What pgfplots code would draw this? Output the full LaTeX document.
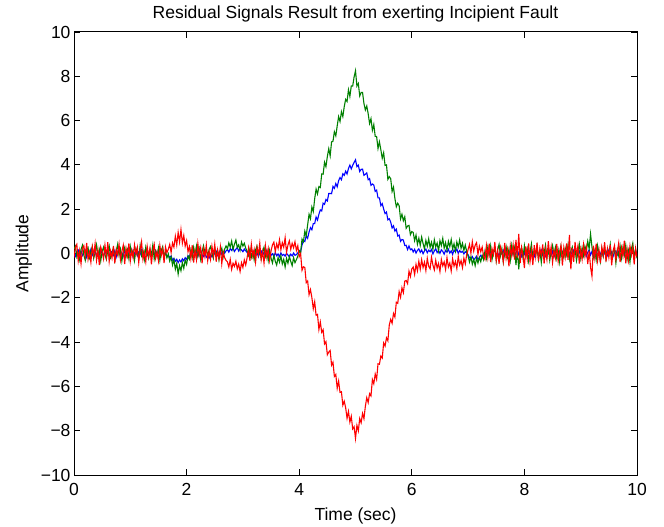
\documentclass[border=0pt]{standalone}
\usepackage{pgfplots}
\pgfplotsset{compat=1.18}
\usepackage{pgfplotstable}
\usepackage{fontspec}
\setmainfont{Liberation Sans}
\newcommand\ff{\fontsize{17.5bp}{21bp}\selectfont}

% time, blue, green, red
\pgfplotstableread{
x b g r
0.000 0.05 0.21 -0.18
0.025 -0.12 0.33 0.27
0.050 0.08 -0.15 0.41
0.075 0.16 0.02 -0.33
0.100 -0.04 -0.28 0.12
0.125 0.11 0.18 -0.46
0.150 -0.09 0.37 0.22
0.175 0.02 -0.07 0.35
0.200 0.14 -0.31 -0.12
0.225 -0.17 0.12 0.48
0.250 0.06 0.26 -0.27
0.275 -0.02 -0.19 0.05
0.300 0.19 0.08 -0.39
0.325 -0.08 0.31 0.31
0.350 0.03 -0.22 -0.08
0.375 0.12 0.04 0.44
0.400 -0.14 0.39 -0.31
0.425 0.07 -0.11 0.16
0.450 -0.05 0.17 -0.52
0.475 0.15 -0.33 0.29
0.500 0.01 0.09 0.07
0.525 -0.11 0.28 -0.24
0.550 0.09 -0.05 0.38
0.575 -0.03 -0.26 -0.15
0.600 0.17 0.14 0.51
0.625 -0.13 0.35 -0.36
0.650 0.04 -0.17 0.11
0.675 0.10 0.06 -0.21
0.700 -0.07 0.24 0.34
0.725 0.13 -0.29 -0.44
0.750 -0.16 0.11 0.18
0.775 0.08 0.41 -0.06
0.800 0.21 -0.08 0.42
0.825 -0.06 0.19 -0.29
0.850 0.03 -0.34 0.09
0.875 -0.12 0.07 0.37
0.900 0.10 0.27 -0.48
0.925 -0.01 -0.14 0.23
0.950 0.14 0.16 -0.11
0.975 -0.09 -0.23 0.46
1.000 0.06 0.32 -0.34
1.025 0.18 -0.02 0.14
1.050 -0.15 0.13 -0.19
1.075 0.02 -0.31 0.39
1.100 0.11 0.22 -0.05
1.125 -0.10 0.05 0.28
1.150 0.07 -0.18 -0.41
1.175 -0.04 0.36 0.17
1.200 0.16 -0.09 0.53
1.225 -0.13 0.15 -0.26
1.250 0.05 -0.27 0.06
1.275 0.12 0.29 -0.37
1.300 -0.08 0.03 0.32
1.325 0.01 -0.21 -0.14
1.350 0.15 0.18 0.25
1.375 -0.11 -0.06 -0.49
1.400 0.09 0.38 0.13
1.425 -0.05 -0.25 0.41
1.450 0.13 0.10 -0.22
1.475 -0.02 -0.13 0.08
1.500 0.08 0.25 -0.33
1.525 -0.14 -0.30 0.36
1.550 0.04 0.14 -0.09
1.575 0.10 0.31 0.21
1.600 -0.07 -0.16 -0.43
1.625 0.03 0.06 0.30
1.650 -0.12 -0.20 0.04
1.675 -0.09 -0.02 0.19
1.700 -0.18 -0.34 0.41
1.725 -0.11 -0.15 0.05
1.750 -0.30 -0.52 0.48
1.775 -0.22 -0.28 0.29
1.800 -0.35 -0.71 0.78
1.825 -0.26 -0.44 0.39
1.850 -0.41 -0.93 0.95
1.875 -0.29 -0.55 0.52
1.900 -0.38 -0.78 1.08
1.925 -0.24 -0.41 0.47
1.950 -0.33 -0.67 0.81
1.975 -0.19 -0.30 0.33
2.000 -0.27 -0.49 0.58
2.025 -0.10 -0.12 0.08
2.050 -0.16 -0.26 0.31
2.075 0.04 0.15 -0.22
2.100 -0.08 -0.19 0.37
2.125 0.12 0.27 -0.41
2.150 -0.03 -0.08 0.14
2.175 0.09 0.33 -0.28
2.200 -0.13 -0.12 0.45
2.225 0.06 0.21 -0.07
2.250 0.15 -0.27 0.26
2.275 -0.06 0.09 -0.44
2.300 -0.14 0.35 0.19
2.325 0.02 0.04 -0.15
2.350 -0.17 0.22 0.38
2.375 -0.09 -0.14 -0.32
2.400 -0.21 0.18 0.11
2.425 -0.05 0.31 -0.26
2.450 -0.15 0.02 0.33
2.475 0.07 -0.21 -0.09
2.500 -0.02 0.26 0.42
2.525 0.11 -0.06 -0.37
2.550 -0.08 0.13 0.16
2.575 0.05 -0.29 -0.21
2.600 0.14 0.07 0.29
2.625 -0.04 0.24 -0.46
2.650 0.09 -0.15 0.07
2.675 0.01 0.19 -0.18
2.700 0.12 0.34 -0.31
2.725 0.18 0.21 -0.38
2.750 0.06 0.48 -0.61
2.775 0.22 0.29 -0.27
2.800 0.14 0.56 -0.72
2.825 0.25 0.18 -0.44
2.850 0.09 0.42 -0.58
2.875 0.19 0.61 -0.35
2.900 0.27 0.27 -0.69
2.925 0.11 0.39 -0.48
2.950 0.23 0.15 -0.81
2.975 0.16 0.52 -0.42
3.000 0.08 0.33 -0.63
3.025 0.20 0.46 -0.29
3.050 0.12 0.24 -0.52
3.075 0.05 0.11 -0.19
3.100 -0.06 -0.09 0.24
3.125 0.10 0.22 -0.33
3.150 -0.12 -0.17 0.41
3.175 0.03 0.08 -0.12
3.200 0.13 -0.28 0.18
3.225 -0.07 0.16 -0.39
3.250 0.08 0.33 0.27
3.275 -0.15 -0.06 -0.05
3.300 0.02 0.19 0.46
3.325 0.11 -0.24 -0.28
3.350 -0.09 0.05 0.09
3.375 0.06 0.28 -0.43
3.400 -0.04 -0.13 0.35
3.425 0.14 0.10 -0.17
3.450 -0.10 -0.32 0.22
3.475 0.05 0.14 -0.31
3.500 -0.08 -0.21 0.12
3.525 -0.01 -0.43 0.39
3.550 -0.13 -0.09 0.51
3.575 0.04 -0.35 0.08
3.600 -0.10 -0.52 0.44
3.625 -0.02 -0.18 0.23
3.650 -0.14 -0.39 0.62
3.675 0.03 -0.11 0.17
3.700 -0.09 -0.47 0.49
3.725 -0.04 -0.26 0.28
3.750 -0.12 -0.61 0.71
3.775 0.01 -0.22 0.05
3.800 -0.07 -0.44 0.38
3.825 -0.15 -0.13 0.57
3.850 -0.03 -0.36 0.19
3.875 -0.11 -0.55 0.46
3.900 0.02 -0.19 0.26
3.925 -0.08 -0.41 0.53
3.950 -0.05 -0.28 0.14
3.975 0.03 -0.12 0.35
4.000 0.13 0.12 -0.15
4.025 0.08 0.02 -0.01
4.050 0.38 0.65 -0.76
4.075 0.59 0.53 -0.60
4.100 0.54 1.01 -0.63
4.125 0.81 0.79 -1.32
4.150 0.69 1.30 -1.24
4.175 0.97 1.77 -1.86
4.200 1.17 1.57 -1.63
4.225 1.07 2.10 -1.99
4.250 1.35 1.89 -2.49
4.275 1.35 2.47 -2.18
4.300 1.65 2.91 -2.79
4.325 1.51 2.69 -2.75
4.350 1.77 3.02 -3.43
4.375 1.97 2.98 -3.09
4.400 1.92 3.59 -3.56
4.425 2.27 3.58 -3.44
4.450 2.22 4.12 -4.08
4.475 2.44 3.92 -3.98
4.500 2.37 4.38 -4.57
4.525 2.71 4.73 -4.45
4.550 2.71 4.41 -4.38
4.575 2.70 5.04 -5.04
4.600 3.03 5.07 -4.91
4.625 2.94 5.50 -5.55
4.650 3.16 5.31 -5.46
4.675 3.01 5.76 -6.08
4.700 3.29 6.18 -5.76
4.725 3.43 5.96 -6.27
4.750 3.33 6.40 -6.24
4.775 3.60 6.18 -6.85
4.800 3.53 6.63 -6.67
4.825 3.72 6.96 -6.96
4.850 3.59 6.86 -7.44
4.875 3.84 7.39 -7.13
4.900 3.99 7.09 -7.61
4.925 3.82 7.56 -7.35
4.950 3.98 7.56 -7.92
4.975 4.11 7.97 -7.82
5.000 4.23 8.25 -8.35
5.025 3.92 7.56 -7.76
5.050 3.99 7.68 -8.01
5.075 3.70 7.11 -7.45
5.100 3.80 7.27 -7.64
5.125 3.81 7.27 -7.22
5.150 3.53 6.77 -7.46
5.175 3.58 6.48 -6.90
5.200 3.64 6.66 -6.51
5.225 3.33 6.31 -6.73
5.250 3.38 5.87 -6.33
5.275 3.08 6.09 -6.43
5.300 3.14 5.56 -5.69
5.325 3.09 5.82 -5.88
5.350 2.80 5.29 -5.44
5.375 2.86 5.28 -5.68
5.400 2.51 4.74 -4.98
5.425 2.51 5.04 -5.00
5.450 2.16 4.69 -4.63
5.475 2.25 4.30 -4.72
5.500 2.01 4.55 -4.04
5.525 1.80 3.98 -4.18
5.550 1.87 4.00 -3.81
5.575 1.52 3.35 -3.94
5.600 1.57 3.47 -3.23
5.625 1.42 3.38 -2.97
5.650 1.15 2.80 -3.15
5.675 1.25 3.00 -2.71
5.700 1.01 2.48 -2.87
5.725 1.10 2.11 -2.20
5.750 0.79 2.27 -2.25
5.775 0.83 2.16 -1.72
5.800 0.55 1.56 -1.98
5.825 0.63 1.77 -1.55
5.850 0.61 1.48 -1.77
5.875 0.36 1.66 -1.25
5.900 0.37 1.14 -1.22
5.925 0.18 1.24 -1.36
5.950 0.34 1.27 -0.80
5.975 0.17 0.85 -1.04
6.000 0.21 0.99 -0.70
6.025 0.07 0.95 -0.61
6.050 0.19 0.58 -0.94
6.075 0.02 0.83 -0.49
6.100 0.14 0.42 -0.78
6.125 0.21 0.69 -0.35
6.150 0.05 0.37 -0.71
6.175 0.16 0.74 -0.28
6.200 -0.01 0.45 -0.63
6.225 0.12 0.21 -0.39
6.250 0.20 0.59 -0.77
6.275 0.03 0.33 -0.22
6.300 0.15 0.66 -0.58
6.325 0.08 0.27 -0.69
6.350 0.18 0.51 -0.17
6.375 -0.02 0.19 -0.52
6.400 0.11 0.62 -0.74
6.425 0.22 0.30 -0.31
6.450 0.04 0.47 -0.66
6.475 0.13 0.12 -0.45
6.500 0.01 0.58 -0.81
6.525 0.17 0.36 -0.27
6.550 0.09 0.68 -0.56
6.575 -0.03 0.24 -0.38
6.600 0.14 0.49 -0.72
6.625 0.06 0.15 -0.19
6.650 0.19 0.55 -0.61
6.675 0.02 0.31 -0.43
6.700 0.12 0.63 -0.79
6.725 -0.04 0.20 -0.24
6.750 0.16 0.44 -0.57
6.775 0.07 0.11 -0.36
6.800 0.21 0.52 -0.68
6.825 0.00 0.29 -0.14
6.850 0.13 0.61 -0.51
6.875 0.05 0.23 -0.32
6.900 0.10 0.46 -0.64
6.925 -0.02 0.14 -0.21
6.950 0.08 0.38 -0.47
6.975 0.03 0.09 -0.05
7.000 -0.06 -0.12 0.18
7.025 -0.18 -0.39 0.41
7.050 -0.25 -0.15 0.02
7.075 -0.14 -0.48 0.53
7.100 -0.29 -0.26 0.11
7.125 -0.21 -0.55 0.37
7.150 -0.12 -0.21 0.49
7.175 -0.27 -0.43 -0.04
7.200 -0.19 -0.18 0.33
7.225 -0.08 -0.37 0.08
7.250 -0.16 -0.09 0.29
7.275 -0.04 -0.28 -0.12
7.300 0.05 0.12 -0.27
7.325 -0.09 -0.21 0.36
7.350 0.13 0.29 -0.18
7.375 -0.04 -0.06 0.44
7.400 0.10 0.34 -0.39
7.425 -0.14 -0.27 0.21
7.450 0.07 0.08 -0.05
7.475 0.16 0.25 0.52
7.500 -0.08 -0.33 -0.31
7.525 0.03 0.17 0.13
7.550 -0.12 0.41 -0.47
7.575 0.11 -0.10 0.29
7.600 -0.02 0.22 0.06
7.625 0.14 -0.38 -0.36
7.650 -0.10 0.05 0.48
7.675 0.06 0.31 -0.22
7.700 -0.15 -0.16 0.17
7.725 0.09 0.19 -0.58
7.750 0.01 -0.29 0.34
7.775 -0.07 0.37 -0.11
7.800 0.12 -0.04 0.39
7.825 -0.11 0.26 -0.28
7.850 0.04 -0.52 0.61
7.875 0.17 0.14 -0.19
7.900 -0.05 -0.71 0.88
7.925 0.08 0.09 -0.43
7.950 -0.13 0.28 0.27
7.975 0.10 -0.19 -0.08
8.000 -0.03 0.35 -0.66
8.025 0.15 -0.11 0.32
8.050 -0.09 0.21 -0.24
8.075 0.02 -0.34 0.45
8.100 0.13 0.07 -0.37
8.125 -0.06 0.43 0.14
8.150 0.08 -0.23 -0.52
8.175 -0.14 0.16 0.38
8.200 0.05 -0.08 -0.15
8.225 0.11 0.32 0.49
8.250 -0.10 -0.27 -0.33
8.275 0.03 0.13 0.22
8.300 0.16 -0.40 -0.09
8.325 -0.07 0.24 0.41
8.350 0.09 0.02 -0.46
8.375 -0.12 0.38 0.19
8.400 0.06 -0.15 -0.27
8.425 -0.01 0.20 0.56
8.450 0.14 -0.31 -0.12
8.475 -0.08 0.10 0.30
8.500 0.10 0.36 -0.41
8.525 -0.15 -0.09 0.15
8.550 0.04 0.27 -0.20
8.575 0.12 -0.22 0.43
8.600 -0.05 0.15 -0.35
8.625 0.08 -0.37 0.08
8.650 -0.11 0.31 0.37
8.675 0.07 0.04 -0.54
8.700 0.15 -0.18 0.26
8.725 -0.04 0.23 -0.17
8.750 0.10 -0.06 0.46
8.775 -0.13 0.39 -0.29
8.800 0.02 -0.25 0.84
8.825 0.09 0.11 -0.71
8.850 -0.08 0.29 0.24
8.875 0.14 -0.14 -0.38
8.900 -0.02 0.18 0.52
8.925 0.06 -0.32 -0.06
8.950 -0.10 0.07 0.33
8.975 0.11 0.42 -0.45
9.000 -0.06 -0.20 0.18
9.025 0.13 0.26 -0.26
9.050 -0.03 -0.09 0.39
9.075 0.08 0.33 -0.14
9.100 -0.12 0.12 0.27
9.125 0.05 0.55 -0.48
9.150 0.16 0.21 0.11
9.175 -0.07 0.88 -0.62
9.200 0.09 0.30 -1.02
9.225 -0.14 -0.17 0.35
9.250 0.03 0.14 -0.21
9.275 0.12 -0.28 0.44
9.300 -0.09 0.35 -0.32
9.325 0.07 0.01 0.16
9.350 -0.05 -0.36 -0.43
9.375 0.14 0.22 0.29
9.400 -0.11 -0.12 -0.07
9.425 0.04 0.30 0.51
9.450 0.10 -0.24 -0.36
9.475 -0.08 0.17 0.22
9.500 0.15 -0.05 -0.18
9.525 -0.02 0.40 0.40
9.550 0.08 -0.29 -0.53
9.575 -0.13 0.09 0.12
9.600 0.06 0.25 0.36
9.625 0.11 -0.43 -0.27
9.650 -0.06 0.16 0.07
9.675 0.09 -0.11 0.47
9.700 -0.10 0.34 -0.39
9.725 0.03 -0.20 0.25
9.750 0.14 0.28 -0.13
9.775 -0.07 -0.07 0.58
9.800 0.10 0.37 -0.44
9.825 -0.04 -0.26 0.19
9.850 0.12 0.13 -0.31
9.875 -0.15 -0.39 0.34
9.900 0.05 0.21 -0.08
9.925 0.08 0.46 0.28
9.950 -0.09 -0.15 -0.49
9.975 0.13 0.19 0.23
10.000 -0.03 -0.22 -0.16
}\sig

\definecolor{mblue}{rgb}{0,0,1}
\definecolor{mgreen}{rgb}{0,0.5,0}
\definecolor{mred}{rgb}{1,0,0}

\begin{document}
\begin{tikzpicture}
\begin{axis}[
  at={(74bp,52bp)}, anchor=south west,
  scale only axis, width=563bp, height=443bp,
  xmin=0, xmax=10, ymin=-10, ymax=10,
  xtick={0,2,...,10}, ytick={-10,-8,...,10},
  yticklabels={−10,−8,−6,−4,−2,0,2,4,6,8,10},
  /pgf/number format/assume math mode=true,
  tick align=inside, major tick length=6bp,
  axis line style={line width=1bp},
  every tick/.style={black, line width=0.8bp},
  tick label style={font=\ff},
  xticklabel style={yshift=-5bp},
  label style={font=\ff},
  xlabel style={yshift=-5bp},
  ylabel style={yshift=2bp},
  title style={font=\ff},
  title={Residual Signals Result from exerting Incipient Fault},
  xlabel={Time (sec)}, ylabel={Amplitude},
]
\addplot[mblue, line width=1.1bp] table[x=x, y=b] {\sig};
\addplot[mgreen, line width=1.1bp] table[x=x, y=g] {\sig};
\addplot[mred, line width=1.1bp] table[x=x, y=r] {\sig};
\end{axis}
\pgfresetboundingbox
\path (0,0) rectangle (664bp,527bp);
\end{tikzpicture}
\end{document}
